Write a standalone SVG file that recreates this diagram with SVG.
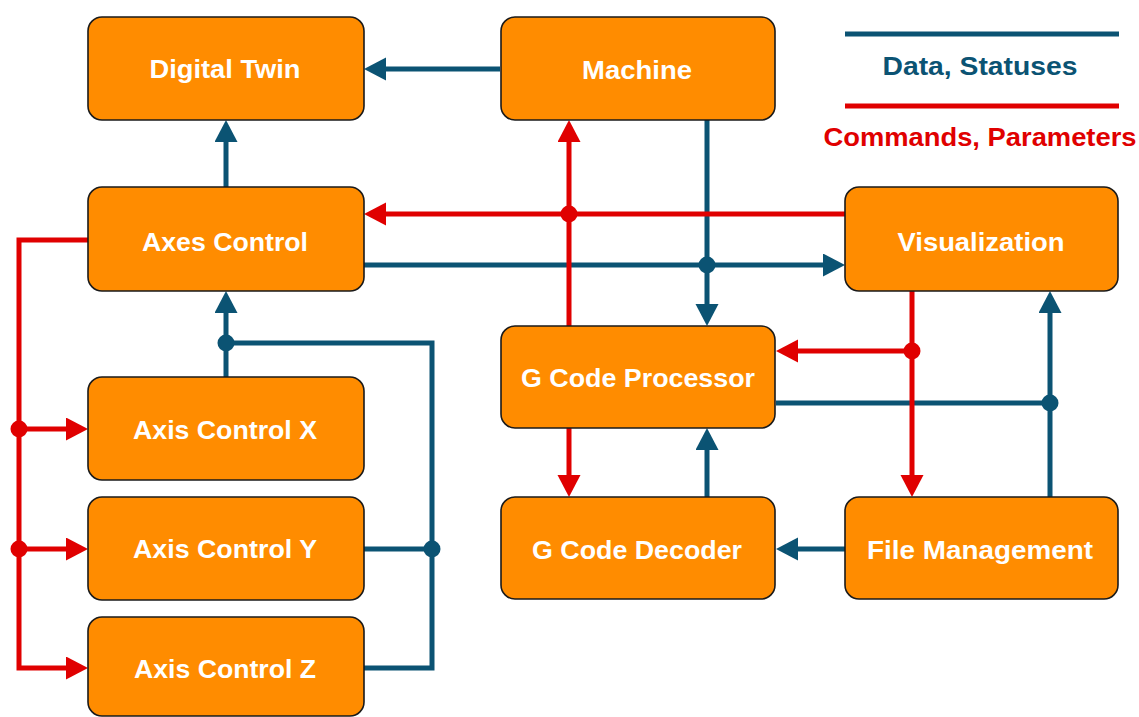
<svg xmlns="http://www.w3.org/2000/svg" width="1139" height="717" viewBox="0 0 1139 717">
<style>
.box{fill:#FF8C00;stroke:#1a1a1a;stroke-width:1.6}
.lbl{font-family:"Liberation Sans",Arial,sans-serif;font-weight:bold;font-size:26.5px;fill:#ffffff;text-anchor:middle}
.blue{fill:none;stroke:#0B5373;stroke-width:5;stroke-linejoin:miter}
.red{fill:none;stroke:#E00000;stroke-width:5;stroke-linejoin:miter}
.bd{fill:#0B5373}
.rd{fill:#E00000}
.leg{font-family:"Liberation Sans",Arial,sans-serif;font-weight:bold;font-size:26px;text-anchor:middle}
</style>
<defs>
<marker id="ab" markerUnits="userSpaceOnUse" markerWidth="24" markerHeight="24" refX="10" refY="11.5" orient="auto" viewBox="0 0 24 24">
<path d="M0,0 L22,11.5 L0,23 z" fill="#0B5373"/>
</marker>
<marker id="ar" markerUnits="userSpaceOnUse" markerWidth="24" markerHeight="24" refX="10" refY="11.5" orient="auto" viewBox="0 0 24 24">
<path d="M0,0 L22,11.5 L0,23 z" fill="#E00000"/>
</marker>
</defs>
<rect width="1139" height="717" fill="#ffffff"/>

<g id="legend">
<line x1="845" y1="34" x2="1119" y2="34" stroke="#0B5373" stroke-width="5"/>
<text class="leg" x="980" y="75" fill="#0B5373" textLength="195" lengthAdjust="spacingAndGlyphs">Data, Statuses</text>
<line x1="845" y1="106" x2="1119" y2="106" stroke="#E00000" stroke-width="5"/>
<text class="leg" x="980" y="146" fill="#E00000" textLength="313" lengthAdjust="spacingAndGlyphs">Commands, Parameters</text>
</g>

<g id="connectors">
<path class="blue" d="M500,69 L376,69" marker-end="url(#ab)"/>
<path class="blue" d="M226,187 L226,132" marker-end="url(#ab)"/>
<path class="blue" d="M364,265 L833,265" marker-end="url(#ab)"/>
<path class="blue" d="M707,120 L707,314" marker-end="url(#ab)"/>
<path class="blue" d="M776,403 L1050,403"/>
<path class="blue" d="M1050,497 L1050,303" marker-end="url(#ab)"/>
<path class="blue" d="M707,497 L707,440" marker-end="url(#ab)"/>
<path class="blue" d="M845,549 L788,549" marker-end="url(#ab)"/>
<path class="blue" d="M226,377 L226,303" marker-end="url(#ab)"/>
<path class="blue" d="M226,343 L432,343 L432,668 L364,668"/>
<path class="blue" d="M364,549 L432,549"/>
<path class="red" d="M845,214 L376,214" marker-end="url(#ar)"/>
<path class="red" d="M569,326 L569,132" marker-end="url(#ar)"/>
<path class="red" d="M912,291 L912,485" marker-end="url(#ar)"/>
<path class="red" d="M912,351 L788,351" marker-end="url(#ar)"/>
<path class="red" d="M569,428 L569,485" marker-end="url(#ar)"/>
<path class="red" d="M88,240 L19,240 L19,668 L76,668" marker-end="url(#ar)"/>
<path class="red" d="M19,429 L76,429" marker-end="url(#ar)"/>
<path class="red" d="M19,549 L76,549" marker-end="url(#ar)"/>
<circle class="bd" cx="707" cy="265" r="8.5"/>
<circle class="bd" cx="1050" cy="403" r="8.5"/>
<circle class="bd" cx="226" cy="343" r="8.5"/>
<circle class="bd" cx="432" cy="549" r="8.5"/>
<circle class="rd" cx="569" cy="214" r="8.5"/>
<circle class="rd" cx="912" cy="351" r="8.5"/>
<circle class="rd" cx="19" cy="429" r="8.5"/>
<circle class="rd" cx="19" cy="549" r="8.5"/>
</g>

<g id="digital-twin">
<rect class="box" x="88" y="17" width="276" height="103" rx="14"/>
<text class="lbl" x="225" y="78" textLength="151" lengthAdjust="spacingAndGlyphs">Digital Twin</text>
</g>
<g id="machine">
<rect class="box" x="501" y="17" width="274" height="103" rx="14"/>
<text class="lbl" x="637" y="79" textLength="110" lengthAdjust="spacingAndGlyphs">Machine</text>
</g>
<g id="axes-control">
<rect class="box" x="88" y="187" width="276" height="104" rx="14"/>
<text class="lbl" x="225" y="251" textLength="166" lengthAdjust="spacingAndGlyphs">Axes Control</text>
</g>
<g id="visualization">
<rect class="box" x="845" y="187" width="273" height="104" rx="14"/>
<text class="lbl" x="981" y="251" textLength="167" lengthAdjust="spacingAndGlyphs">Visualization</text>
</g>
<g id="g-code-processor">
<rect class="box" x="501" y="326" width="274" height="102" rx="14"/>
<text class="lbl" x="638" y="387" textLength="234" lengthAdjust="spacingAndGlyphs">G Code Processor</text>
</g>
<g id="axis-control-x">
<rect class="box" x="88" y="377" width="276" height="103" rx="14"/>
<text class="lbl" x="225" y="439" textLength="184" lengthAdjust="spacingAndGlyphs">Axis Control X</text>
</g>
<g id="axis-control-y">
<rect class="box" x="88" y="497" width="276" height="103" rx="14"/>
<text class="lbl" x="225" y="558" textLength="184" lengthAdjust="spacingAndGlyphs">Axis Control Y</text>
</g>
<g id="axis-control-z">
<rect class="box" x="88" y="617" width="276" height="99" rx="14"/>
<text class="lbl" x="225" y="678" textLength="182" lengthAdjust="spacingAndGlyphs">Axis Control Z</text>
</g>
<g id="g-code-decoder">
<rect class="box" x="501" y="497" width="274" height="102" rx="14"/>
<text class="lbl" x="637" y="559" textLength="210" lengthAdjust="spacingAndGlyphs">G Code Decoder</text>
</g>
<g id="file-management">
<rect class="box" x="845" y="497" width="273" height="102" rx="14"/>
<text class="lbl" x="980" y="559" textLength="226" lengthAdjust="spacingAndGlyphs">File Management</text>
</g>
</svg>
